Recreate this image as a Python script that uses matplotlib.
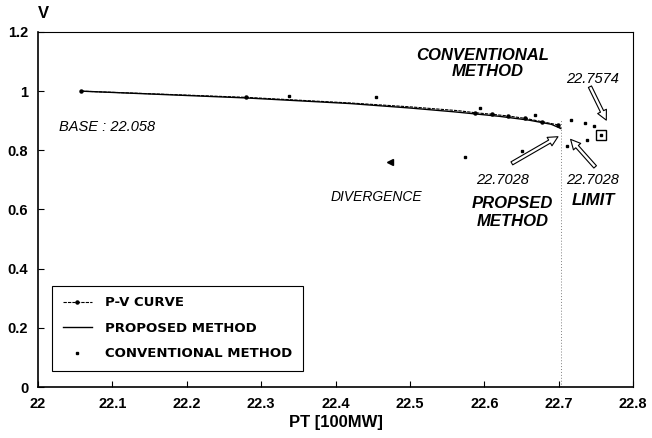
import numpy as np
import matplotlib.pyplot as plt

plt.rcParams['font.family'] = ['Liberation Sans', 'DejaVu Sans']

# P-V curve (exact)
pv_x = [22.058, 22.28, 22.42, 22.50, 22.565, 22.588, 22.61, 22.632, 22.655, 22.677, 22.699, 22.7028]
pv_v = [1.000, 0.979, 0.960, 0.947, 0.934, 0.927, 0.922, 0.916, 0.908, 0.897, 0.886, 0.872]
pv_marks = [0, 1, 5, 6, 7, 8, 9, 10]

# proposed method trace
prop_x = [22.058, 22.28, 22.42, 22.50, 22.56, 22.62, 22.66, 22.69, 22.7028]
prop_v = [1.000, 0.977, 0.958, 0.943, 0.930, 0.915, 0.902, 0.888, 0.874]

# conventional method iterations
conv_x = [22.337, 22.454, 22.594, 22.668, 22.717, 22.735, 22.747, 22.7574, 22.738, 22.711, 22.651, 22.574]
conv_v = [0.983, 0.979, 0.942, 0.920, 0.903, 0.891, 0.882, 0.852, 0.835, 0.815, 0.798, 0.779]

diverge_x, diverge_v = 22.473, 0.761
base = 22.058
limit = 22.7028
conv_last = 22.7574
conv_last_v = 0.852

fig = plt.figure(figsize=(6.52, 4.38), dpi=100)
ax = fig.add_axes([0.0583, 0.1164, 0.9127, 0.8106])

ax.plot(pv_x, pv_v, color='black', lw=0.8, ls=(0, (3, 1)), marker='o', ms=2.2,
        markevery=pv_marks, label='P-V CURVE')
ax.plot(prop_x, prop_v, color='black', lw=1.0, label='PROPOSED METHOD')
ax.plot(conv_x, conv_v, ls='none', marker='s', ms=1.8, color='black', label='CONVENTIONAL METHOD')
ax.plot(diverge_x, diverge_v, marker='<', ms=4, color='black')
ax.plot(conv_last, conv_last_v, marker='s', ms=7, mfc='none', mec='black', mew=1.0)

# limit line
ax.plot([limit, limit], [0, 0.905], color='gray', ls=(0, (1, 2)), lw=0.7)

it = dict(style='italic', color='black')
bi = dict(style='italic', color='black', weight='bold', fontsize=12, ha='center', va='center')
ax.text(22.028, 0.878, 'BASE : ' + str(base), fontsize=10.5, va='center', **it)
ax.text(22.598, 1.122, 'CONVENTIONAL', **bi)
ax.text(22.605, 1.066, 'METHOD', **bi)
ax.text(22.746, 1.040, str(conv_last), fontsize=10.5, ha='center', va='center', **it)
ax.text(22.625, 0.700, str(limit), fontsize=10.5, ha='center', va='center', **it)
ax.text(22.746, 0.700, str(limit), fontsize=10.5, ha='center', va='center', **it)
ax.text(22.638, 0.621, 'PROPSED', **bi)
ax.text(22.638, 0.559, 'METHOD', **bi)
ax.text(22.746, 0.631, 'LIMIT', **bi)
ax.text(22.455, 0.643, 'DIVERGENCE', fontsize=10, ha='center', va='center', **it)

arrow = dict(arrowstyle='simple,head_width=0.7,head_length=0.7,tail_width=0.25',
             fc='white', ec='black', lw=0.8, shrinkA=0, shrinkB=0)
ax.annotate('', xy=(22.764, 0.902), xytext=(22.742, 1.015), arrowprops=arrow)
ax.annotate('', xy=(22.699, 0.846), xytext=(22.637, 0.756), arrowprops=arrow)
ax.annotate('', xy=(22.716, 0.837), xytext=(22.749, 0.744), arrowprops=arrow)

ax.set_xlim(22, 22.8)
ax.set_ylim(0, 1.2)
ax.set_xticks(np.arange(22, 22.81, 0.1))
ax.set_xticklabels(['22', '22.1', '22.2', '22.3', '22.4', '22.5', '22.6', '22.7', '22.8'])
ax.set_yticks([0, 0.2, 0.4, 0.6, 0.8, 1.0, 1.2])
ax.set_yticklabels(['0', '0.2', '0.4', '0.6', '0.8', '1', '1.2'])
ax.tick_params(direction='in', length=4, width=0.8, labelsize=10.5, pad=7)
for lab in ax.get_xticklabels() + ax.get_yticklabels():
    lab.set_fontweight('bold')
for s in ['left', 'bottom']:
    ax.spines[s].set_linewidth(1.2)
for s in ['top', 'right']:
    ax.spines[s].set_linewidth(0.8)

ax.set_xlabel('PT [100MW]', fontsize=12, weight='bold', labelpad=3)
ax.text(0.0, 1.03, 'V', transform=ax.transAxes, fontsize=12, weight='bold', ha='left', va='bottom')

leg = ax.legend(loc='lower left', bbox_to_anchor=(0.0235, 0.045), borderaxespad=0,
                fancybox=False, edgecolor='black', framealpha=1, handlelength=2.2,
                labelspacing=0.95, borderpad=0.8, handletextpad=1.0,
                prop={'family': 'DejaVu Sans', 'weight': 'bold', 'size': 9.5})
leg.get_frame().set_linewidth(0.8)

fig.savefig('out.png', dpi=100)
